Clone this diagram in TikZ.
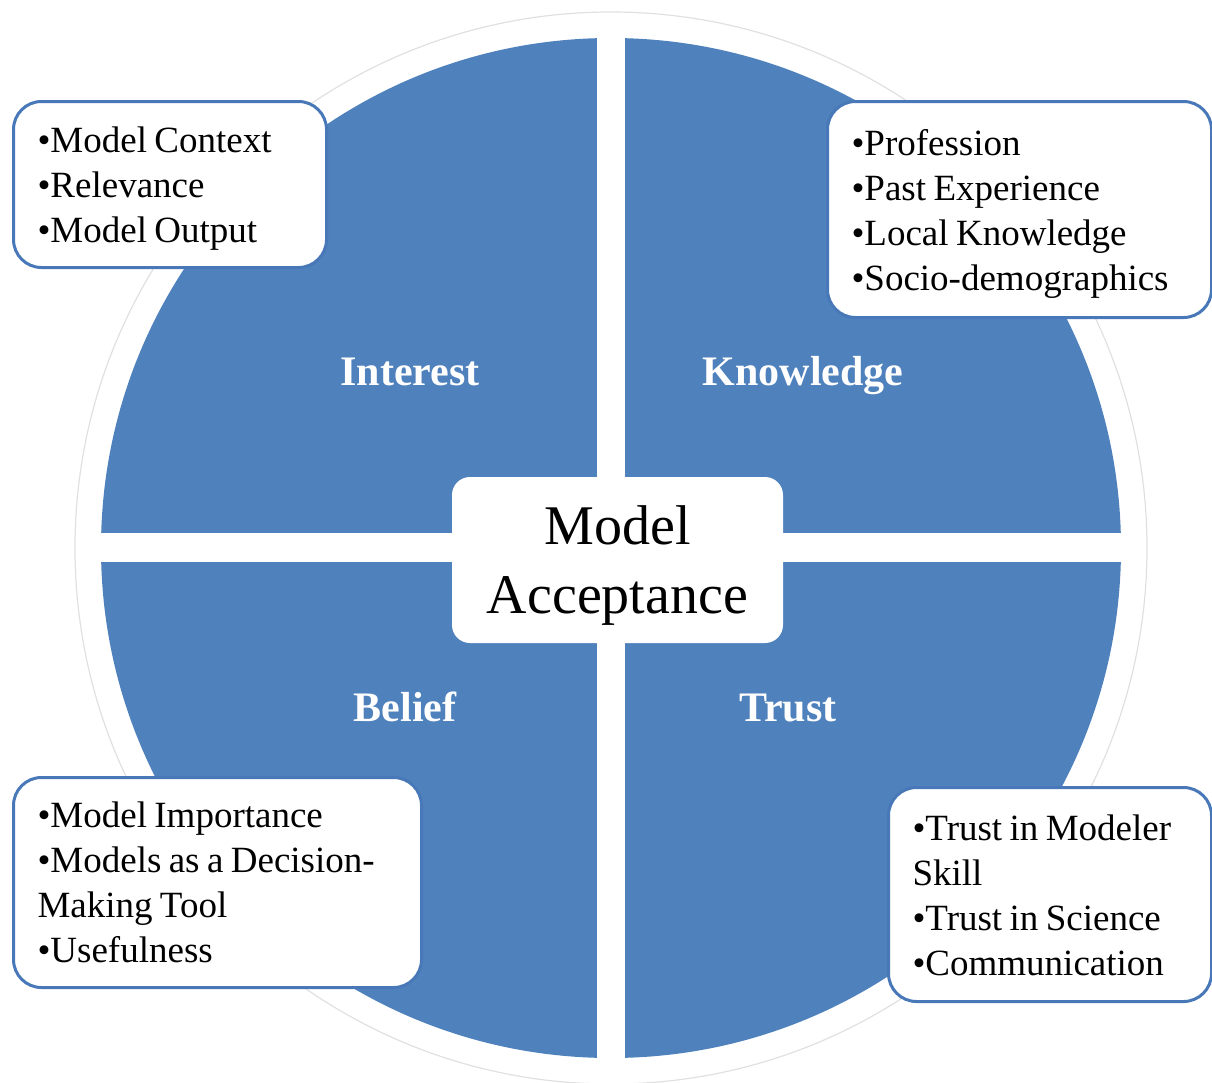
\documentclass[tikz,border=0pt]{standalone}
\usepackage{fontspec}
\setmainfont{Liberation Serif}
\definecolor{qblue}{RGB}{79,129,189}
\definecolor{bord}{RGB}{72,120,184}
\newcommand\tsp{\spaceskip=0.2em plus 0.05em\relax}
\begin{document}
\begin{tikzpicture}[x=1pt,y=-1pt,
  itembox/.style={draw=bord, line width=3pt, fill=white, rounded corners=28pt, inner sep=0pt, anchor=north west},
  itemtext/.style={align=left, inner sep=0pt, yshift=-4pt,
    font=\fontsize{37}{45}\selectfont},
  quadlabel/.style={text=white, anchor=base, font=\bfseries\fontsize{42}{50}\selectfont}]
\useasboundingbox (0,0) rectangle (1212,1082);
\coordinate (c) at (611,548);
\draw[black!12, line width=1.2pt] (c) circle[radius=536];
\fill[qblue] (c) circle[radius=510];
\fill[white] (597,30) rectangle (625,1066);
\fill[white] (90,533) rectangle (1132,562);

\node[quadlabel] (interest) at (410,385) {Interest};
\node[quadlabel] (knowledge) at (803,385) {Knowledge};
\node[quadlabel] (belief) at (405,721) {Belief};
\node[quadlabel] (trust) at (788,721) {Trust};

\node[fill=white, rounded corners=18pt, minimum width=331pt, minimum height=166pt, inner sep=0pt,
  align=center, text depth=0pt, font=\fontsize{56}{69}\selectfont] (center) at (617.5,560) {Model\\Acceptance};

\node[itembox, minimum width=313pt, minimum height=166pt] (tl) at (12,100) {};
\node[itemtext, text width=265pt] (tltext) at (tl.center) {\tsp •Model Context\\•Relevance\\•Model Output};
\node[itembox, minimum width=384pt, minimum height=216pt] (tr) at (826,100) {};
\node[itemtext, text width=336pt] (trtext) at (tr.center) {\tsp •Profession\\•Past Experience\\•Local Knowledge\\•Socio-demographics};
\node[itembox, minimum width=408pt, minimum height=210pt] (bl) at (12,776) {};
\node[itemtext, text width=360pt, yshift=4pt] (bltext) at (bl.center) {\tsp •Model Importance\\•Models as a Decision-\\Making Tool\\•Usefulness};
\node[itembox, minimum width=323pt, minimum height=214pt] (br) at (887,786) {};
\node[itemtext, text width=275pt, yshift=3pt] (brtext) at (br.center) {\tsp •Trust in Modeler\\Skill\\•Trust in Science\\•Communication};
\end{tikzpicture}
\end{document}
